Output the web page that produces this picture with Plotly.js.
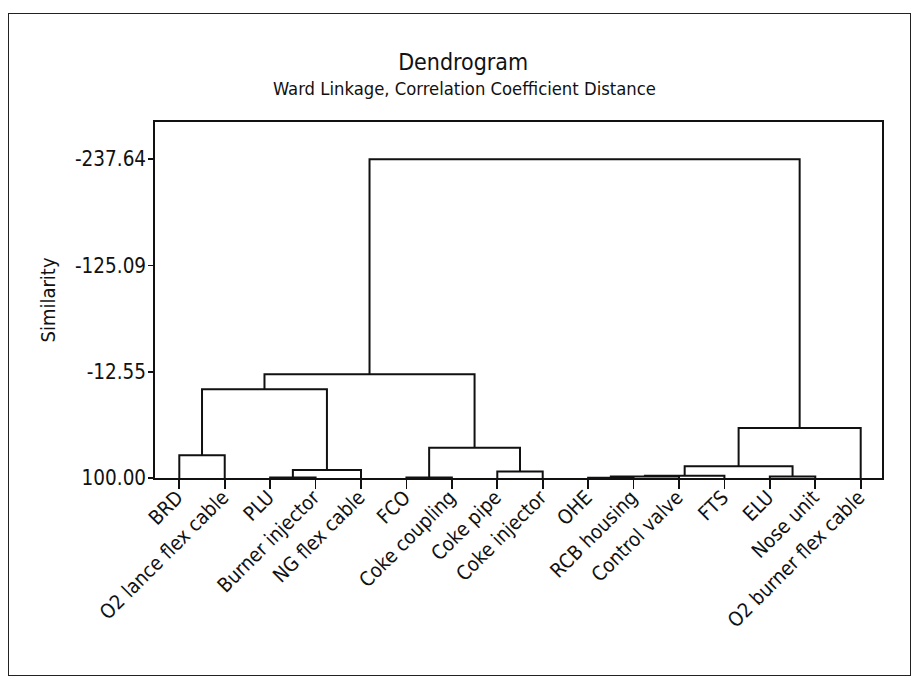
<!DOCTYPE html>
<html><head><meta charset="utf-8">
<script src="https://cdn.plot.ly/plotly-3.0.1.min.js"></script>
<style>
html,body{margin:0;padding:0;background:#fff;}
#frame{position:absolute;left:8px;top:13px;width:903px;height:663px;border:1.6px solid #222;box-sizing:border-box;}
#chart{position:absolute;left:0;top:0;width:919px;height:680px;}
</style></head><body>
<div id="frame"></div>
<div id="chart"></div>
<script>
// Leaves in dendrogram order
const leaves = ['BRD', 'O2 lance flex cable', 'PLU', 'Burner injector', 'NG flex cable', 'FCO',
  'Coke coupling', 'Coke pipe', 'Coke injector', 'OHE', 'RCB housing', 'Control valve',
  'FTS', 'ELU', 'Nose unit', 'O2 burner flex cable'];
// Merges: node ids < 16 are leaves, 16+k is the cluster formed by merge k
const mergeA = [2, 5, 9, 13, 18, 20, 7, 16, 21, 0, 17, 24, 25, 28, 29];
const mergeB = [3, 6, 10, 14, 11, 12, 8, 4, 19, 1, 22, 15, 23, 26, 27];
const mergeSimilarity = [99.6, 99.6, 99.7, 98.3, 98.4, 97.5, 93.0, 91.5, 87.5, 76.0, 68.0, 47.0, 6.0, -10.0, -237.64];
const yTickValues = [100, -12.55, -125.09, -237.64];
const yTickLabels = ['100.00', '-12.55', '-125.09', '-237.64'];

const FONT = "'DejaVu Sans Condensed', 'DejaVu Sans', sans-serif";
const INK = '#111';

const nodeX = leaves.map((_, i) => i);
const nodeY = leaves.map(() => 100);
const xs = [], ys = [];
for (let k = 0; k < mergeA.length; k++) {
  const a = mergeA[k], b = mergeB[k], h = mergeSimilarity[k];
  xs.push(nodeX[a], nodeX[a], nodeX[b], nodeX[b], null);
  ys.push(nodeY[a], h, h, nodeY[b], null);
  nodeX.push((nodeX[a] + nodeX[b]) / 2);
  nodeY.push(h);
}

const trace = {
  x: xs, y: ys, type: 'scatter', mode: 'lines',
  line: {color: INK, width: 2}, hoverinfo: 'skip', showlegend: false
};

const layout = {
  width: 919, height: 680,
  margin: {l: 155, r: 37, t: 122, b: 202, pad: 0},
  paper_bgcolor: 'rgba(0,0,0,0)', plot_bgcolor: 'rgba(0,0,0,0)',
  font: {family: FONT, color: INK},
  showlegend: false,
  title: {text: 'Dendrogram', x: 0.504, xanchor: 'center', xref: 'container',
          y: 1 - 62 / 680, yanchor: 'middle', yref: 'container', font: {size: 23, family: FONT, color: INK}},
  annotations: [{
    text: 'Ward Linkage, Correlation Coefficient Distance', showarrow: false,
    xref: 'paper', yref: 'paper', x: (464 - 155) / 727, y: (478 - 88) / 356,
    xanchor: 'center', yanchor: 'middle', font: {size: 18.3, family: FONT, color: INK}
  }],
  xaxis: {
    range: [-0.535, 15.469], tickmode: 'array', tickvals: leaves.map((_, i) => i), ticktext: leaves,
    tickangle: -45, ticks: 'outside', ticklen: 9, tickwidth: 1.8, tickcolor: INK,
    ticklabelstandoff: -11, ticklabelshift: -2,
    showline: true, linewidth: 1.8, linecolor: INK, mirror: true,
    showgrid: false, zeroline: false, tickfont: {size: 20, family: FONT, color: INK}
  },
  yaxis: {
    range: [100, -277], tickmode: 'array', tickvals: yTickValues, ticktext: yTickLabels,
    ticks: 'outside', ticklen: 5, tickwidth: 1.8, tickcolor: INK, ticklabelstandoff: -2,
    showline: true, linewidth: 1.8, linecolor: INK, mirror: true,
    showgrid: false, zeroline: false, tickfont: {size: 20.5, family: FONT, color: INK},
    title: {text: 'Similarity', font: {size: 20, family: FONT, color: INK}, standoff: 14}
  }
};

Plotly.newPlot('chart', [trace], layout, {displayModeBar: false, staticPlot: true});
</script>
</body></html>
